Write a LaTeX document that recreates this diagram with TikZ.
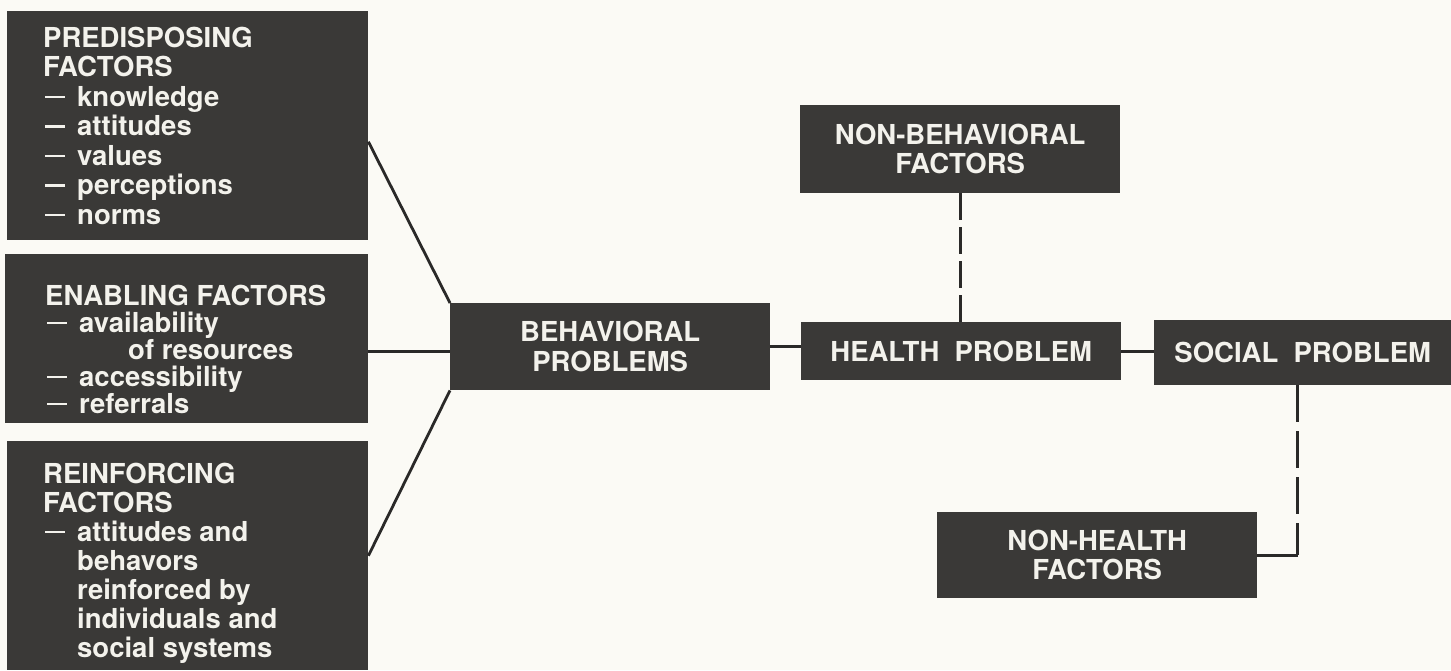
\documentclass[tikz,border=0pt]{standalone}
\usepackage{fontspec}
\setmainfont{TeX Gyre Heros}
\usetikzlibrary{calc}
\definecolor{paper}{HTML}{FBFAF5}
\definecolor{boxfill}{HTML}{3A3937}
\definecolor{ink}{HTML}{2A2928}
\definecolor{boxtext}{HTML}{F3F2EC}
\newcommand{\itm}[1]{\makebox[34pt][l]{\hspace*{2pt}\rule[8pt]{20pt}{2.4pt}}#1}
\newcommand{\stk}[2]{\vtop{\baselineskip=#1\relax #2}}
\tikzset{
  box/.style={rectangle, fill=boxfill, draw=none, inner sep=0pt, anchor=north west,
    text=boxtext, align=center, font=\fontsize{27.5}{29.5}\selectfont\bfseries},
  txt/.style={inner sep=0pt, anchor=base west, text=boxtext,
    font=\fontsize{27.5}{29.5}\selectfont\bfseries},
  conn/.style={draw=ink, line width=2.8pt},
  dconnA/.style={conn, dash pattern=on 27pt off 7pt},
  dconnB/.style={conn, dash pattern=on 37pt off 9pt}
}
\begin{document}
\begin{tikzpicture}[x=1pt, y=-1pt]
\fill[paper] (0,0) rectangle (1451,670);
\useasboundingbox (0,0) rectangle (1451,670);
% left boxes
\node[box, minimum width=361pt, minimum height=229pt] (pre) at (7,11) {};
\node[box, minimum width=363pt, minimum height=169pt] (enab) at (5,254) {};
\node[box, minimum width=361pt, minimum height=229pt] (rein) at (7,441) {};
\node[txt] (pretxt) at (43,47) {\stk{29.5pt}{\hbox{PREDISPOSING}\hbox{FACTORS}\hbox{\itm{knowledge}}\hbox{\itm{attitudes}}\hbox{\itm{values}}\hbox{\itm{perceptions}}\hbox{\itm{norms}}}};
\node[txt] (enabtxt) at (45,305) {\stk{27pt}{\hbox{ENABLING FACTORS}\hbox{\itm{availability}}\hbox{\hspace*{83pt}of resources}\hbox{\itm{accessibility}}\hbox{\itm{referrals}}}};
\node[txt] (reintxt) at (43,483) {\stk{29pt}{\hbox{REINFORCING}\hbox{FACTORS}\hbox{\itm{attitudes and}}\hbox{\hspace*{34pt}behavors}\hbox{\hspace*{34pt}reinforced by}\hbox{\hspace*{34pt}individuals and}\hbox{\hspace*{34pt}social systems}}};
% middle and right boxes
\node[box, minimum width=320pt, minimum height=87pt] (beh) at (450,303) {BEHAVIORAL\\PROBLEMS};
\node[box, minimum width=320pt, minimum height=58pt] (health) at (801,322) {HEALTH\ \ PROBLEM};
\node[box, minimum width=320pt, minimum height=88pt] (nonbeh) at (800,105) {NON-BEHAVIORAL\\FACTORS};
\node[box, minimum width=297pt, minimum height=65pt] (social) at (1154,320) {SOCIAL\ \ PROBLEM};
\node[box, minimum width=320pt, minimum height=86pt] (nonhealth) at (937,512) {NON-HEALTH\\FACTORS};
% connectors
\draw[conn] ([yshift=-16pt]pre.east) -- (beh.north west);
\draw[conn] ($(enab.east |- beh.west)+(0,5)$) -- ($(beh.west)+(0,5)$);
\draw[conn] (rein.east) -- (beh.south west);
\draw[conn] (beh.east) -- (health.west |- beh.east);
\draw[conn] (health.east) -- (social.west |- health.east);
\draw[dconnA] (nonbeh.south) -- (nonbeh.south |- health.north);
\coordinate (sdrop) at ($(social.south)+(-5,0)$);
\coordinate (corner) at (sdrop |- nonhealth.east);
\draw[dconnB] (sdrop) -- (corner);
\draw[conn] (corner) -- (nonhealth.east);
\end{tikzpicture}
\end{document}
